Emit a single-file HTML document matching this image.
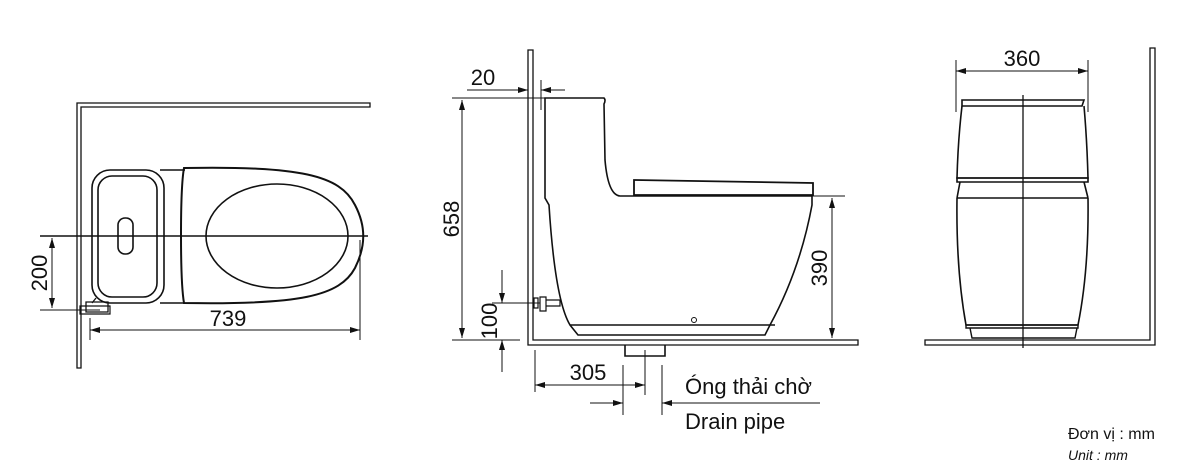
<!DOCTYPE html>
<html><head><meta charset="utf-8"><style>
html,body{margin:0;padding:0;background:#fff;}
svg{display:block}
text{font-family:"Liberation Sans",sans-serif;fill:#111}
</style></head><body>
<svg width="1200" height="472" viewBox="0 0 1200 472" xmlns="http://www.w3.org/2000/svg">
<defs>
<marker id="a" viewBox="0 0 10 6" refX="10" refY="3" markerWidth="17" markerHeight="6" orient="auto-start-reverse" markerUnits="userSpaceOnUse"><path d="M0,0 L10,3 L0,6z" fill="#111"/></marker>
</defs>
<g fill="none" stroke="#111" stroke-width="1.6">
<!-- TOP VIEW -->
<path d="M77,368 V103 H370 V107 H81 V368 Z" stroke-width="1.3"/>
<rect x="92" y="170" width="72" height="133" rx="18"/>
<rect x="98" y="176" width="59" height="121" rx="14"/>
<rect x="118" y="218" width="15" height="36" rx="7"/>
<path d="M160,170 H185 M160,303 H185"/>
<path d="M184,168 C300,166 340,175 355,205 C366,226 366,246 355,268 C340,296 300,305 184,303 C180,280 180,190 184,168 Z" stroke-width="2"/>
<ellipse cx="277" cy="236" rx="71" ry="52"/>
<path d="M92,303 L96,298 M86,302 h22 v10 h-22z" stroke-width="1.3"/>
<path d="M80,306 h30 v8 h-30z" stroke-width="1.2"/>
</g>
<g stroke="#111" stroke-width="1" fill="none">
<line x1="40" y1="236" x2="368" y2="236" stroke-width="1.6"/>
<line x1="40" y1="310" x2="100" y2="310"/>
<line x1="52" y1="238" x2="52" y2="308" marker-start="url(#a)" marker-end="url(#a)"/>
<line x1="90" y1="318" x2="90" y2="340"/>
<line x1="360" y1="240" x2="360" y2="340"/>
<line x1="90" y1="330" x2="360" y2="330" marker-start="url(#a)" marker-end="url(#a)"/>
</g>
<text x="228" y="326" font-size="22" text-anchor="middle">739</text>
<text transform="translate(47,273) rotate(-90)" font-size="22" text-anchor="middle">200</text>

<!-- SIDE VIEW -->
<g fill="none" stroke="#111" stroke-width="1.6">
<path d="M528,50 V345 H858 V340 H533 V50 Z" stroke-width="1.3"/>
<path d="M545,98 H604 Q606,100 604,104 L605,160 Q608,195 620,196 H812 L812,205 Q800,270 770,325 L765,335 H578 L570,325 Q555,300 549,205 L545,198 Z"/>
<path d="M634,180 L813,183 V195 H634 Z" stroke-width="1.8"/>
<path d="M570,325 H775"/>
<path d="M625,345 V356 H665 V345"/>
<circle cx="694" cy="320" r="2.5" stroke-width="1"/>
<path d="M534,298 h4 v10 h-4 z M540,297 h6 v14 h-6z M546,300 h14 v6 h-14z" stroke-width="1.2"/>
</g>
<g stroke="#111" stroke-width="1" fill="none">
<line x1="452" y1="98" x2="575" y2="98"/>
<line x1="452" y1="340" x2="520" y2="340"/>
<line x1="462" y1="100" x2="462" y2="338" marker-start="url(#a)" marker-end="url(#a)"/>
<line x1="467" y1="90" x2="528" y2="90" marker-end="url(#a)"/>
<line x1="565" y1="90" x2="541" y2="90" marker-end="url(#a)"/>
<line x1="541" y1="80" x2="541" y2="110"/>
<line x1="812" y1="196" x2="845" y2="196"/>
<line x1="832" y1="198" x2="832" y2="338" marker-start="url(#a)" marker-end="url(#a)"/>
<line x1="492" y1="303" x2="540" y2="303"/>
<line x1="502" y1="270" x2="502" y2="303" marker-end="url(#a)"/>
<line x1="502" y1="372" x2="502" y2="340" marker-end="url(#a)"/>
<line x1="535" y1="350" x2="535" y2="392"/>
<line x1="645" y1="350" x2="645" y2="395"/>
<line x1="623" y1="365" x2="623" y2="415"/>
<line x1="662" y1="365" x2="662" y2="415"/>
<line x1="535" y1="385" x2="645" y2="385" marker-start="url(#a)" marker-end="url(#a)"/>
<line x1="590" y1="403" x2="623" y2="403" marker-end="url(#a)"/>
<line x1="820" y1="403" x2="662" y2="403" marker-end="url(#a)"/>
</g>
<text x="483" y="85" font-size="22" text-anchor="middle">20</text>
<text transform="translate(459,219) rotate(-90)" font-size="22" text-anchor="middle">658</text>
<text transform="translate(827,268) rotate(-90)" font-size="22" text-anchor="middle">390</text>
<text transform="translate(497,321) rotate(-90)" font-size="22" text-anchor="middle">100</text>
<text x="588" y="380" font-size="22" text-anchor="middle">305</text>
<text x="685" y="394" font-size="22">Óng thải chờ</text>
<text x="685" y="429" font-size="22">Drain pipe</text>

<!-- FRONT VIEW -->
<g fill="none" stroke="#111" stroke-width="1.6">
<path d="M925,340 H1150 V48 H1155 V345 H925 Z" stroke-width="1.3"/>
<path d="M962,100 H1084 L1082,106 H962 Z"/>
<path d="M962,106 Q958,140 957,178 H1088 Q1087,140 1084,106"/>
<path d="M957,178 H1088 V182 H957 Z"/>
<path d="M960,182 L957,198 M1084,182 L1088,198 M957,198 H1088"/>
<path d="M957,198 Q956,270 966,325 H1078 Q1089,270 1088,198"/>
<path d="M966,325 H1078 V328 H966Z M970,328 L972,338 H1075 L1077,328" stroke-width="1.4"/>
</g>
<g stroke="#111" stroke-width="1" fill="none">
<line x1="1023" y1="95" x2="1023" y2="348" stroke-width="1.3"/>
<line x1="956" y1="60" x2="956" y2="112"/>
<line x1="1088" y1="60" x2="1088" y2="112"/>
<line x1="956" y1="71" x2="1088" y2="71" marker-start="url(#a)" marker-end="url(#a)"/>
</g>
<text x="1022" y="66" font-size="22" text-anchor="middle">360</text>

<text x="1068" y="439" font-size="16">Đơn vị : mm</text>
<text x="1068" y="460" font-size="14" font-style="italic">Unit : mm</text>
</svg>
</body></html>
